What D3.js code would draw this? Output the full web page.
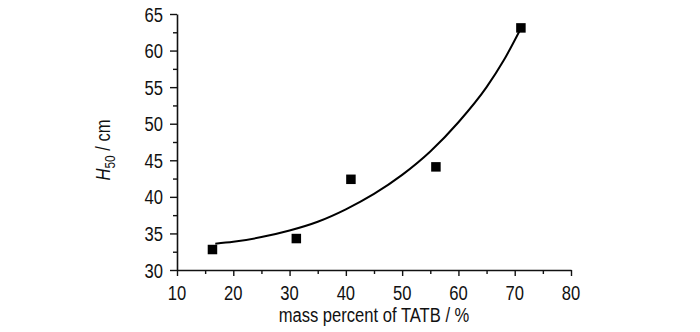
<!DOCTYPE html>
<html><head><meta charset="utf-8">
<script src="https://cdn.jsdelivr.net/npm/d3@7"></script>
<style>
body{margin:0;background:#fff;}
svg text{font-family:"Liberation Sans",Arial,sans-serif;fill:#111;}
</style></head><body>
<svg id="c" width="700" height="332"></svg>
<script>
// data
const massPercent = [16.3, 31.2, 40.9, 56.0, 71.1];
const h50 = [32.8, 34.3, 42.4, 44.1, 63.1];
const fitX = [16.8, 20, 25, 30, 35, 40, 45, 50, 55, 60, 65, 68, 71];
const fitY = [33.6, 33.85, 34.5, 35.4, 36.6, 38.3, 40.4, 43.0, 46.2, 50.2, 55.0, 58.6, 62.9];
const xTicks = [10, 20, 30, 40, 50, 60, 70, 80];
const yTicks = [30, 35, 40, 45, 50, 55, 60, 65];
const xMinor = [15, 25, 35, 45, 55, 65, 75];
const yMinor = [32.5, 37.5, 42.5, 47.5, 52.5, 57.5, 62.5];

const SX = 0.79, FS = 21;
const svg = d3.select("#c");
const x = d3.scaleLinear().domain([10, 80]).range([177, 571]);
const y = d3.scaleLinear().domain([30, 65]).range([270, 14]);

function styleAxis(g){
  g.select(".domain").attr("stroke","#111").attr("stroke-width",1.6);
  g.selectAll(".tick line").attr("stroke","#111").attr("stroke-width",1.4);
  g.selectAll(".tick text").remove();
}
const gx = svg.append("g").attr("transform","translate(0,270)")
  .call(d3.axisBottom(x).tickValues(xTicks).tickSize(6).tickSizeOuter(0));
styleAxis(gx);
const gxm = svg.append("g").attr("transform","translate(0,270)")
  .call(d3.axisBottom(x).tickValues(xMinor).tickSize(4).tickFormat(""));
gxm.select(".domain").remove();
styleAxis(gxm);

const gy = svg.append("g").attr("transform","translate(177,0)")
  .call(d3.axisLeft(y).tickValues(yTicks).tickSize(7).tickSizeOuter(0));
styleAxis(gy);
const gym = svg.append("g").attr("transform","translate(177,0)")
  .call(d3.axisLeft(y).tickValues(yMinor).tickSize(4).tickFormat(""));
gym.select(".domain").remove();
styleAxis(gym);

// tick labels (narrowed)
svg.append("g").selectAll("text").data(xTicks).enter().append("text")
  .attr("transform", d=>`translate(${x(d)},300) scale(${SX},1)`)
  .attr("text-anchor","middle").attr("font-size",FS).text(d=>d);
svg.append("g").selectAll("text").data(yTicks).enter().append("text")
  .attr("transform", d=>`translate(163,${y(d)+7.5}) scale(${SX},1)`)
  .attr("text-anchor","end").attr("font-size",FS).text(d=>d);

// fit curve
const pts = fitX.map((v,i)=>[v, fitY[i]]);
svg.append("path").datum(pts)
  .attr("fill","none").attr("stroke","#000").attr("stroke-width",2)
  .attr("d", d3.line().x(d=>x(d[0])).y(d=>y(d[1])).curve(d3.curveMonotoneX));

// markers
const s = 9.5;
svg.selectAll("rect.m").data(massPercent).enter().append("rect")
  .attr("class","m")
  .attr("x",(d)=>x(d)-s/2).attr("y",(d,i)=>y(h50[i])-s/2)
  .attr("width",s).attr("height",s).attr("fill","#000");

// axis titles
svg.append("text").attr("transform",`translate(374,322) scale(${SX},1)`)
  .attr("text-anchor","middle").attr("font-size",FS).text("mass percent of TATB / %");
const yt = svg.append("text").attr("transform",`translate(110,150) rotate(-90) scale(${SX},1)`)
  .attr("text-anchor","middle").attr("font-size",FS);
yt.append("tspan").attr("font-style","italic").text("H");
yt.append("tspan").attr("font-size",15).attr("dy",5).text("50");
yt.append("tspan").attr("dy",-5).text(" / cm");
</script>
</body></html>
